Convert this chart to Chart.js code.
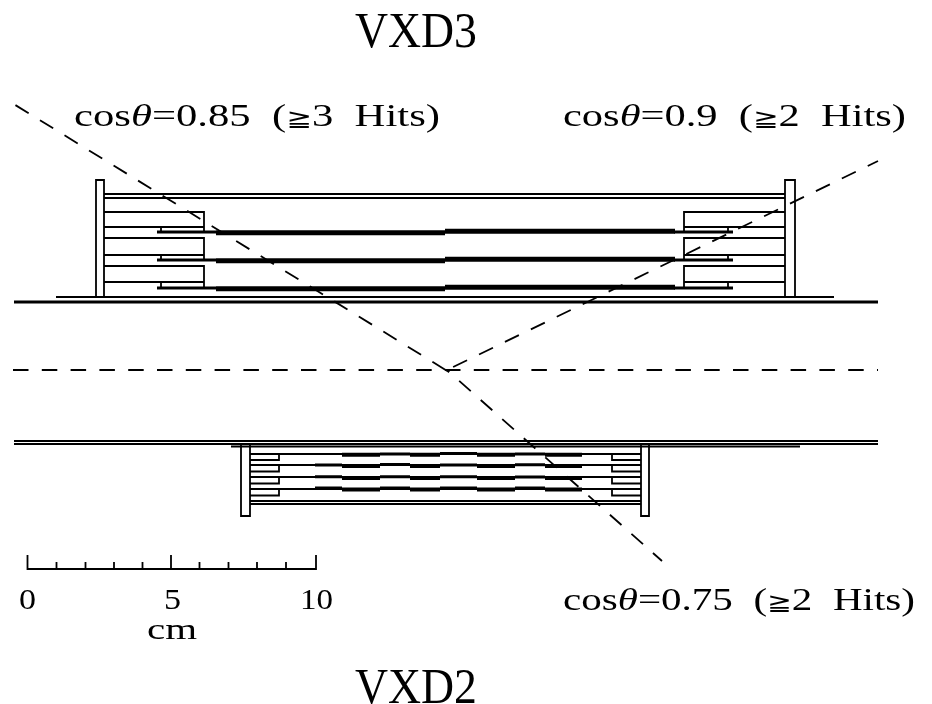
<!DOCTYPE html>
<html>
<head>
<meta charset="utf-8">
<style>html,body{margin:0;padding:0;background:#fff}canvas{display:block}</style>
<script src="https://cdn.jsdelivr.net/npm/chart.js@4/dist/chart.umd.min.js"></script>
</head>
<body>
<canvas id="detector" width="932" height="704"></canvas>
<script>
// everything is in picture units (29 units = 1 cm)
const beamLine = [[[13, 370], [878, 370]]];
const track85 = [[[445.6, 369.9], [12, 103]]];
const track85Stub = [[[449, 372], [445.6, 369.9]]];
const track90 = [[[447, 370], [878, 161]]];
const track75 = [[[447, 370], [662, 561]]];

const vxd3Frame = [
  [[96, 297], [96, 180], [104, 180], [104, 297]],
  [[785, 297], [785, 180], [795, 180], [795, 297]],
  [[104, 194], [785, 194]], [[104, 198], [785, 198]],
  [[56, 297], [834, 297]],
  [[204, 232], [204, 212], [104, 212]], [[104, 227], [204, 227]],
  [[204, 260], [204, 238], [104, 238]], [[104, 255], [204, 255]],
  [[204, 288], [204, 266], [104, 266]], [[104, 282], [204, 282]],
  [[684, 232], [684, 212], [785, 212]], [[785, 227], [684, 227]],
  [[684, 260], [684, 238], [785, 238]], [[785, 255], [684, 255]],
  [[684, 288], [684, 266], [785, 266]], [[785, 282], [684, 282]],
  [[161, 227], [161, 232]], [[161, 255], [161, 260]], [[161, 282], [161, 288]],
  [[728, 227], [728, 232]], [[728, 255], [728, 260]], [[728, 282], [728, 288]]
];
const vxd3Ladders = [
  [[157, 232], [216, 232]], [[157, 260], [216, 260]], [[157, 288], [216, 288]],
  [[674, 232], [733, 232]], [[674, 260], [733, 260]], [[674, 288], [733, 288]]
];
const vxd3Sensors = [
  [[216, 232.7], [445, 232.7]], [[445, 231.3], [675, 231.3]],
  [[216, 260.7], [445, 260.7]], [[445, 259.3], [675, 259.3]],
  [[216, 288.7], [445, 288.7]], [[445, 287.3], [675, 287.3]]
];
const beamPipeTop = [[[14, 302], [878, 302]]];

const vxd2Pipe = [
  [[14, 441], [878, 441]], [[14, 444], [878, 444]], [[231, 446.5], [800, 446.5]]
];
const vxd2Frame = [
  [[241, 443], [241, 516], [250, 516], [250, 443]],
  [[641, 443], [641, 516], [649, 516], [649, 443]],
  [[250, 501], [641, 501]], [[250, 504], [641, 504]],
  [[250, 460], [279, 460], [279, 454]], [[250, 471.5], [279, 471.5], [279, 465]],
  [[250, 483.5], [279, 483.5], [279, 477]], [[250, 495.5], [279, 495.5], [279, 489]],
  [[641, 460], [612, 460], [612, 454]], [[641, 471.5], [612, 471.5], [612, 465]],
  [[641, 483.5], [612, 483.5], [612, 477]], [[641, 495.5], [612, 495.5], [612, 489]]
];
const vxd2Rows = [
  [[250, 454], [641, 454]], [[250, 465], [641, 465]],
  [[250, 477], [641, 477]], [[250, 489], [641, 489]]
];
const vxd2Inner = [
  [[380, 454], [410, 454]], [[440, 453.5], [477, 453.5]], [[515, 454], [545, 454]],
  [[315, 465], [342, 465]], [[380, 464.5], [410, 464.5]], [[440, 465], [477, 465]], [[515, 464.7], [545, 464.7]],
  [[315, 476.7], [342, 476.7]], [[380, 476.7], [410, 476.7]], [[440, 476.7], [477, 476.7]], [[515, 477], [545, 477]],
  [[315, 488], [342, 488]], [[380, 488], [410, 488]], [[440, 488], [477, 488]], [[515, 488], [545, 488]]
];
const vxd2Outer = [
  [[342, 454.7], [380, 454.7]], [[410, 454.7], [440, 454.7]], [[477, 454.7], [515, 454.7]], [[545, 454.7], [582, 454.7]],
  [[342, 466], [380, 466]], [[410, 466], [440, 466]], [[477, 466], [515, 466]], [[545, 466], [582, 466]],
  [[342, 478], [380, 478]], [[410, 478], [440, 478]], [[477, 478], [515, 478]], [[545, 478], [582, 478]],
  [[342, 489.5], [380, 489.5]], [[410, 489.5], [440, 489.5]], [[477, 489.5], [515, 489.5]], [[545, 489.5], [582, 489.5]]
];

const scaleBar = [
  [[27.5, 555], [27.5, 569], [316, 569], [316, 555]],
  [[56.5, 562], [56.5, 569]], [[85.5, 562], [85.5, 569]], [[114, 562], [114, 569]], [[142.5, 562], [142.5, 569]],
  [[171, 555], [171, 569]],
  [[199.5, 562], [199.5, 569]], [[228.5, 562], [228.5, 569]], [[257, 562], [257, 569]], [[286, 562], [286, 569]]
];

const labelTexts = ['VXD3', 'VXD2', 'cosθ=0.85 (≧3 Hits)', 'cosθ=0.9 (≧2 Hits)', 'cosθ=0.75 (≧2 Hits)', '0', '5', '10', 'cm'];
const labelX = [355, 355, 74, 563, 563, 19, 164, 300, 147];
const labelY = [47, 703, 126, 126, 610, 609, 609, 609, 639];
const labelWidths = [122, 122, 366, 343, 352, 17, 17, 33, 50];
const labelSizes = [51, 51, 32, 32, 32, 30, 30, 30, 30];
const labelGaps = [0, 0, 8, 8, 8, 0, 0, 0, 0];

const dashPattern = [15.5, 13.3];

function toPoints(segments) {
  const pts = [];
  segments.forEach(seg => {
    seg.forEach(p => pts.push({x: p[0], y: p[1]}));
    pts.push({x: seg[seg.length - 1][0], y: null});
  });
  return pts;
}

function lineSet(segments, width, dash, offset) {
  return {
    data: toPoints(segments),
    showLine: true,
    borderColor: '#000',
    borderWidth: width,
    borderDash: dash || [],
    borderDashOffset: offset || 0,
    pointRadius: 0,
    spanGaps: false,
    tension: 0,
    clip: false
  };
}

function fontFor(run, size) {
  if (run === 'θ') return 'italic ' + size + 'px "Liberation Serif"';
  if (run === '≧') return Math.round(size * 0.72) + 'px "DejaVu Sans"';
  return size + 'px "Liberation Serif"';
}

// serif text stretched to the measured width, theta goes in italic
const textPlugin = {
  id: 'pictureText',
  afterDraw(chart) {
    const ctx = chart.ctx;
    const xs = chart.scales.x, ys = chart.scales.y;
    labelTexts.forEach((txt, i) => {
      const runs = txt.split(/([θ≧])/).filter(r => r.length);
      ctx.save();
      ctx.wordSpacing = labelGaps[i] + 'px';
      let total = 0;
      runs.forEach(r => { ctx.font = fontFor(r, labelSizes[i]); total += ctx.measureText(r).width; });
      ctx.fillStyle = '#000';
      ctx.textBaseline = 'alphabetic';
      ctx.translate(xs.getPixelForValue(labelX[i]), ys.getPixelForValue(labelY[i]));
      ctx.scale(labelWidths[i] / total, 1);
      let pos = 0;
      runs.forEach(r => {
        ctx.font = fontFor(r, labelSizes[i]);
        ctx.fillText(r, pos, 0);
        pos += ctx.measureText(r).width;
      });
      ctx.restore();
    });
  }
};

new Chart(document.getElementById('detector'), {
  type: 'scatter',
  data: {
    datasets: [
      lineSet(vxd3Frame, 1.8),
      lineSet(vxd3Ladders, 3),
      lineSet(vxd3Sensors, 5),
      lineSet(beamPipeTop, 3),
      lineSet(vxd2Pipe, 1.8),
      lineSet(vxd2Frame, 1.8),
      lineSet(vxd2Rows, 2.2),
      lineSet(vxd2Inner, 3),
      lineSet(vxd2Outer, 4),
      lineSet(scaleBar, 1.8),
      lineSet(track85Stub, 1.8),
      lineSet(beamLine, 1.8, dashPattern, 0),
      lineSet(track85, 1.8, dashPattern, 0),
      lineSet(track90, 1.8, dashPattern, 22),
      lineSet(track75, 1.8, dashPattern, 12.5)
    ]
  },
  options: {
    responsive: false,
    animation: false,
    events: [],
    layout: {padding: 0},
    plugins: {legend: {display: false}, tooltip: {enabled: false}, title: {display: false}},
    scales: {
      x: {type: 'linear', min: 0, max: 932, display: false},
      y: {type: 'linear', min: 0, max: 704, reverse: true, display: false}
    }
  },
  plugins: [textPlugin]
});
</script>
</body>
</html>
